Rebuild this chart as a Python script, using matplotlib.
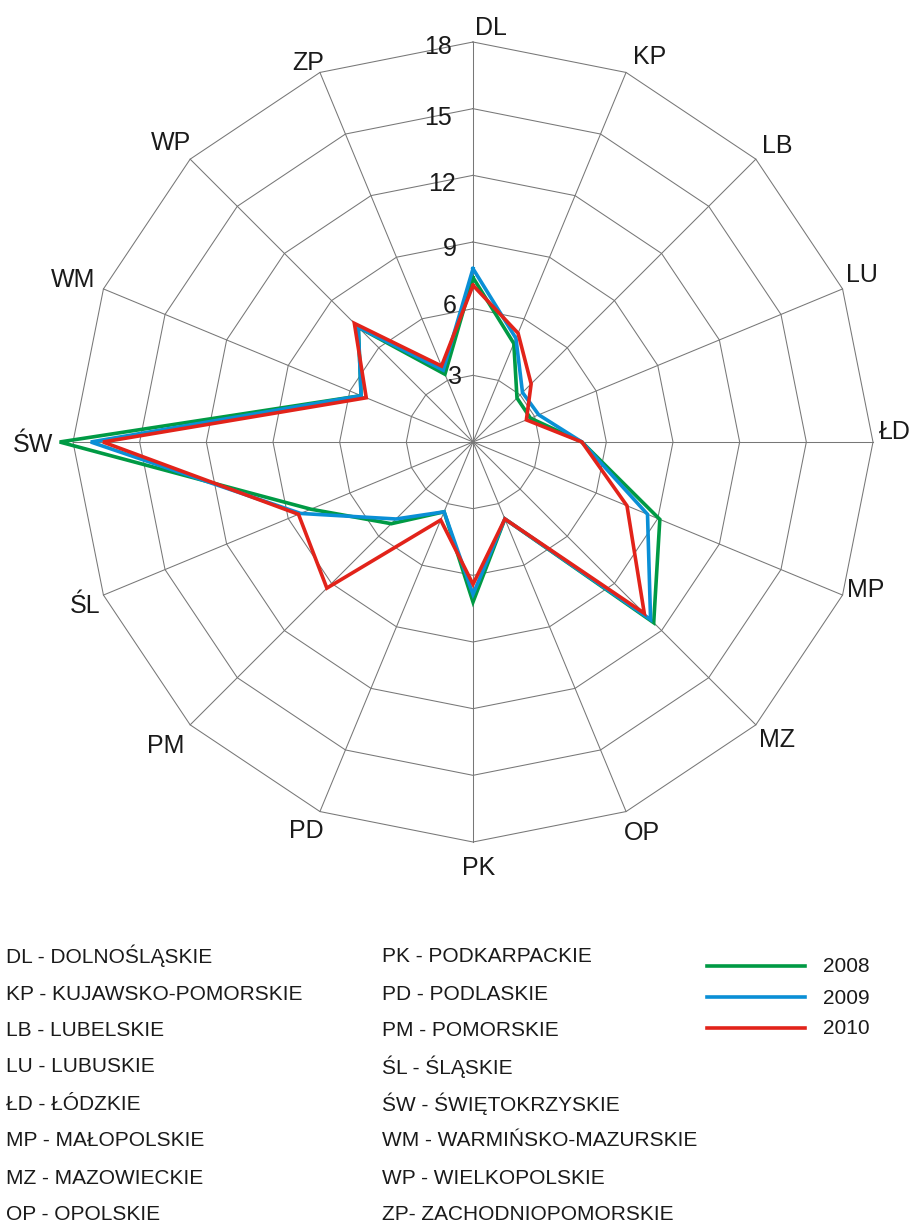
import numpy as np
import matplotlib
matplotlib.use("Agg")
import matplotlib.pyplot as plt
from matplotlib.lines import Line2D

plt.rcParams['font.family'] = ['Liberation Sans', 'DejaVu Sans']

# ---------------- data ----------------
categories = ["DL", "KP", "LB", "LU", "ŁD", "MP", "MZ", "OP",
              "PK", "PD", "PM", "ŚL", "ŚW", "WM", "WP", "ZP"]
v2008 = [7.4, 4.8, 2.8, 2.8, 4.9, 9.1, 11.5, 3.75, 7.2, 3.4, 5.2, 7.9, 18.6, 5.45, 7.3, 3.3]
v2009 = [7.8, 5.05, 3.15, 3.2, 4.9, 8.5, 11.3, 3.75, 6.85, 3.4, 4.9, 8.4, 17.2, 5.45, 7.3, 3.5]
v2010 = [7.05, 5.3, 3.7, 2.6, 4.9, 7.5, 10.9, 3.75, 6.4, 3.8, 9.3, 8.5, 16.65, 5.2, 7.55, 3.7]
years = ["2008", "2009", "2010"]
ring_ticks = [3, 6, 9, 12, 15, 18]

legend_left = ["DL - DOLNOŚLĄSKIE", "KP - KUJAWSKO-POMORSKIE", "LB - LUBELSKIE",
               "LU - LUBUSKIE", "ŁD - ŁÓDZKIE", "MP - MAŁOPOLSKIE",
               "MZ - MAZOWIECKIE", "OP - OPOLSKIE"]
legend_right = ["PK - PODKARPACKIE", "PD - PODLASKIE", "PM - POMORSKIE",
                "ŚL - ŚLĄSKIE", "ŚW - ŚWIĘTOKRZYSKIE", "WM - WARMIŃSKO-MAZURSKIE",
                "WP - WIELKOPOLSKIE", "ZP- ZACHODNIOPOMORSKIE"]

colors = ["#009a44", "#0a8fd6", "#e2231a"]

# label offsets (pixels, x right / y down) from the outer vertex
label_offsets = [(18, -14), (24, -15), (21, -13), (19, -14), (22, -10), (23, -5),
                 (21, 15), (16, 21), (6, 26), (-14, 19), (-24, 21), (-18, 11),
                 (-40, 3), (-30, -9), (-19, -16), (-12, -9)]
# ring-number offsets (pixels) of the right edge / centre from the ring on the top spoke
ring_label_offsets = [(-11, 2), (-16, -3), (-16, 7), (-17, 9), (-21, 9), (-21, 5)]

# ---------------- figure ----------------
W, H = 915, 1225
fig = plt.figure(figsize=(W / 100, H / 100), dpi=100)
cx, cy, R = 473, 442, 400
ax = fig.add_axes([(cx - R) / W, (H - cy - R) / H, 2 * R / W, 2 * R / H], projection='polar')
ax.set_theta_zero_location('N')
ax.set_theta_direction(-1)
ax.set_ylim(0, 18)
ax.axis('off')

n = len(categories)
theta = np.arange(n) * 2 * np.pi / n
theta_c = np.append(theta, theta[0])

grid_col = "#777777"
for r in ring_ticks:
    ax.plot(theta_c, [r] * (n + 1), color=grid_col, lw=0.75, zorder=1, clip_on=False)
for t in theta:
    ax.plot([t, t], [0, 18], color=grid_col, lw=0.75, zorder=1, clip_on=False)

for vals, col in zip([v2008, v2009, v2010], colors):
    ax.plot(theta_c, list(vals) + [vals[0]], color=col, lw=2.6, zorder=3,
            clip_on=False, solid_joinstyle='miter')

px = 0.72  # pixels -> points
for t, cat, (dx, dy) in zip(theta, categories, label_offsets):
    ax.annotate(cat, xy=(t, 18), xytext=(dx * px, -dy * px), textcoords='offset points',
                ha='center', va='center', fontsize=18, color="#1a1a1a",
                annotation_clip=False)

for r, (dx, dy) in zip(ring_ticks, ring_label_offsets):
    ax.annotate(str(r), xy=(0, r), xytext=(dx * px, -dy * px), textcoords='offset points',
                ha='right', va='center', fontsize=18, color="#1a1a1a",
                annotation_clip=False)

# ---------------- legend text ----------------
row_y = [956, 994, 1030, 1067, 1104, 1141, 1178, 1215]
for txt, y in zip(legend_left, row_y):
    fig.text(6 / W, 1 - y / H, txt, ha='left', va='center', fontsize=15, color="#1a1a1a")
for txt, y in zip(legend_right, row_y):
    fig.text(382 / W, 1 - y / H, txt, ha='left', va='center', fontsize=15, color="#1a1a1a")

leg_y = [966, 997, 1028]
for yr, col, y in zip(years, colors, leg_y):
    fig.add_artist(Line2D([707 / W, 805 / W], [1 - y / H, 1 - y / H], color=col, lw=2.6,
                          transform=fig.transFigure))
    fig.text(823 / W, 1 - (y + 1) / H, yr, ha='left', va='center', fontsize=15, color="#1a1a1a")

fig.savefig("out.png", dpi=100)
